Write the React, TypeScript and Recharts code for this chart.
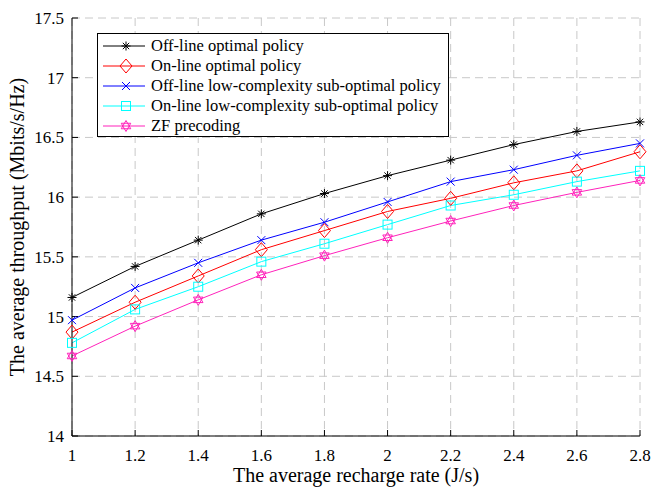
import React from "react";
import { LineChart, Line, XAxis, YAxis, CartesianGrid, Legend } from "recharts";

const rates = [1, 1.2, 1.4, 1.6, 1.8, 2, 2.2, 2.4, 2.6, 2.8];
const offlineOptimal = [15.16, 15.42, 15.64, 15.86, 16.03, 16.18, 16.31, 16.44, 16.55, 16.63];
const onlineOptimal = [14.87, 15.12, 15.34, 15.56, 15.72, 15.88, 15.99, 16.12, 16.22, 16.38];
const offlineLowComplexity = [14.97, 15.24, 15.45, 15.64, 15.79, 15.96, 16.13, 16.23, 16.35, 16.45];
const onlineLowComplexity = [14.78, 15.06, 15.25, 15.46, 15.61, 15.77, 15.93, 16.02, 16.13, 16.22];
const zfPrecoding = [14.67, 14.92, 15.14, 15.35, 15.51, 15.66, 15.8, 15.93, 16.04, 16.14];

const xTicks = [1, 1.2, 1.4, 1.6, 1.8, 2, 2.2, 2.4, 2.6, 2.8];
const yTicks = [14, 14.5, 15, 15.5, 16, 16.5, 17, 17.5];

const series = [
  { key: "offOpt", name: "Off-line optimal policy", color: "#000000", marker: "star", values: offlineOptimal },
  { key: "onOpt", name: "On-line optimal policy", color: "#ff0000", marker: "diamond", values: onlineOptimal },
  { key: "offLow", name: "Off-line low-complexity sub-optimal policy", color: "#0000ff", marker: "x", values: offlineLowComplexity },
  { key: "onLow", name: "On-line low-complexity sub-optimal policy", color: "#00ffff", marker: "square", values: onlineLowComplexity },
  { key: "zf", name: "ZF precoding", color: "#ff22bb", marker: "hexagram", values: zfPrecoding },
];

const data = rates.map((r, i) => {
  const row: Record<string, number> = { rate: r };
  series.forEach((s) => (row[s.key] = s.values[i]));
  return row;
});

const FONT = "'Liberation Serif', 'Times New Roman', serif";

function Marker({ type, cx, cy, color }: { type: string; cx: number; cy: number; color: string }) {
  if (type === "star") {
    const r = 4.5;
    const d = r * 0.707;
    return (
      <g stroke={color} strokeWidth={1}>
        <line x1={cx - r} y1={cy} x2={cx + r} y2={cy} />
        <line x1={cx} y1={cy - r} x2={cx} y2={cy + r} />
        <line x1={cx - d} y1={cy - d} x2={cx + d} y2={cy + d} />
        <line x1={cx - d} y1={cy + d} x2={cx + d} y2={cy - d} />
      </g>
    );
  }
  if (type === "diamond") {
    return (
      <polygon
        points={`${cx},${cy - 7} ${cx + 6},${cy} ${cx},${cy + 7} ${cx - 6},${cy}`}
        fill="none"
        stroke={color}
        strokeWidth={1}
      />
    );
  }
  if (type === "x") {
    const r = 4;
    return (
      <g stroke={color} strokeWidth={1}>
        <line x1={cx - r} y1={cy - r} x2={cx + r} y2={cy + r} />
        <line x1={cx - r} y1={cy + r} x2={cx + r} y2={cy - r} />
      </g>
    );
  }
  if (type === "square") {
    return <rect x={cx - 4.5} y={cy - 4.5} width={9} height={9} fill="none" stroke={color} strokeWidth={1} />;
  }
  // hexagram: two overlapping triangles
  const r = 5.5;
  const tri = (rot: number) =>
    [0, 1, 2]
      .map((k) => {
        const a = rot + (k * 2 * Math.PI) / 3;
        return `${cx + r * Math.sin(a)},${cy - r * Math.cos(a)}`;
      })
      .join(" ");
  return (
    <g fill="none" stroke={color} strokeWidth={1}>
      <polygon points={tri(0)} />
      <polygon points={tri(Math.PI)} />
    </g>
  );
}

function LegendBox() {
  return (
    <div
      style={{
        width: 352,
        height: 104,
        border: "1px solid #000",
        background: "#fff",
        fontFamily: FONT,
        fontSize: 16.5,
        color: "#000",
        boxSizing: "border-box",
        paddingTop: 2,
      }}
    >
      {series.map((s) => (
        <div key={s.key} style={{ display: "flex", alignItems: "center", height: 20 }}>
          <svg width={53} height={20} style={{ flexShrink: 0 }}>
            <line x1={5} y1={10} x2={47} y2={10} stroke={s.color} strokeWidth={1} />
            <Marker type={s.marker} cx={28} cy={10} color={s.color} />
          </svg>
          <span style={{ whiteSpace: "nowrap" }}>{s.name}</span>
        </div>
      ))}
    </div>
  );
}

export default function App() {
  const axisStroke = "#000";
  const tickStyle = { fontFamily: FONT, fontSize: 17, fill: "#000" };
  return (
    <div style={{ position: "absolute", left: 0, top: 0, width: 652, height: 488, background: "#fff" }}>
      <LineChart width={652} height={488} data={data} margin={{ top: 18, right: 12, bottom: 0, left: 0 }}>
        <CartesianGrid stroke="#c8c8c8" strokeDasharray="8 5" strokeWidth={1} />
        <XAxis
          dataKey="rate"
          type="number"
          domain={[1, 2.8]}
          ticks={xTicks}
          stroke={axisStroke}
          tickSize={-6}
          tickMargin={19}
          height={52}
          tick={tickStyle}
          tickFormatter={(v: number) => String(v)}
          label={{
            value: "The average recharge rate (J/s)",
            position: "insideBottom",
            offset: 6,
            style: { fontFamily: FONT, fontSize: 20, fill: "#000" },
          }}
        />
        <XAxis
          xAxisId="top"
          dataKey="rate"
          type="number"
          orientation="top"
          domain={[1, 2.8]}
          ticks={xTicks}
          stroke={axisStroke}
          tickSize={-6}
          height={0}
          tickFormatter={() => ""}
        />
        <YAxis
          type="number"
          domain={[14, 17.5]}
          ticks={yTicks}
          stroke={axisStroke}
          tickSize={-6}
          tickMargin={14}
          width={72}
          tick={tickStyle}
          tickFormatter={(v: number) => String(v)}
          label={{
            value: "The average throughput (Mbits/s/Hz)",
            angle: -90,
            position: "insideLeft",
            offset: 17,
            style: { fontFamily: FONT, fontSize: 20, fill: "#000", textAnchor: "middle" },
          }}
        />
        <YAxis
          yAxisId="right"
          orientation="right"
          type="number"
          domain={[14, 17.5]}
          ticks={yTicks}
          stroke={axisStroke}
          tickSize={-6}
          width={0}
          tickFormatter={() => ""}
        />
        {series.map((s) => (
          <Line
            key={s.key}
            dataKey={s.key}
            name={s.name}
            stroke={s.color}
            strokeWidth={1}
            isAnimationActive={false}
            dot={(p: any) => <Marker key={p.key ?? p.index} type={s.marker} cx={p.cx} cy={p.cy} color={s.color} />}
            activeDot={false}
          />
        ))}
        <Legend
          layout="vertical"
          align="center"
          verticalAlign="middle"
          wrapperStyle={{ left: 97, top: 33, width: 352 }}
          content={() => <LegendBox />}
        />
      </LineChart>
    </div>
  );
}
